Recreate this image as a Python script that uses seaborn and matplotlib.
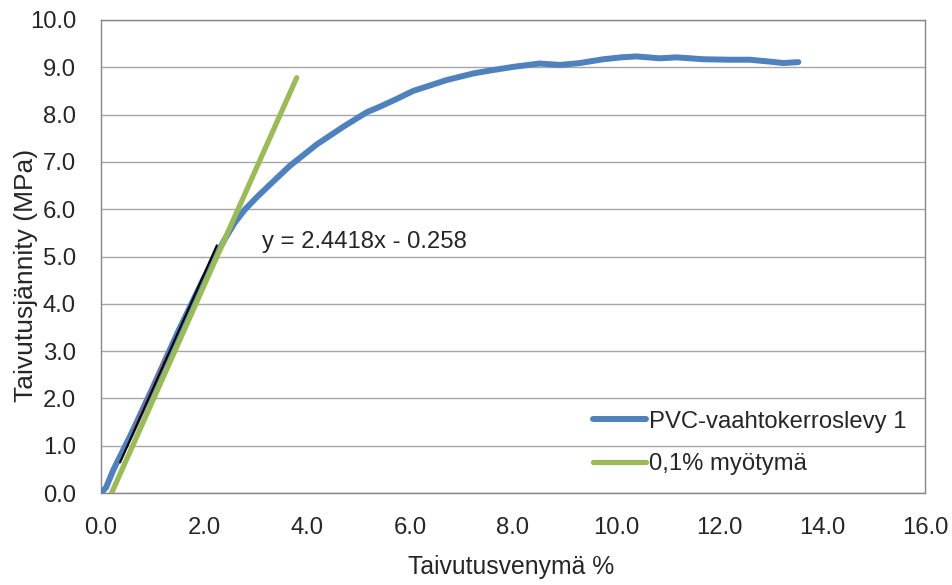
import matplotlib
matplotlib.use("Agg")
import matplotlib.pyplot as plt
from matplotlib.lines import Line2D
import seaborn as sns
import pandas as pd

# ---- data ----
strain = [0.0, 0.1, 0.24, 0.6, 1.0, 1.5, 2.0, 2.25, 2.4, 2.6, 2.8, 3.05, 3.3, 3.67,
          4.19, 4.70, 5.16, 5.42, 5.74, 6.06, 6.4, 6.71, 7.23, 7.6, 8.01, 8.52,
          8.91, 9.30, 9.75, 10.1, 10.40, 10.85, 11.18, 11.70, 12.21, 12.60,
          12.99, 13.25, 13.54]
stress = [0.0, 0.12, 0.49, 1.28, 2.22, 3.42, 4.55, 5.05, 5.36, 5.72, 6.0, 6.28, 6.54, 6.92,
          7.37, 7.74, 8.05, 8.17, 8.33, 8.50, 8.62, 8.73, 8.87, 8.94, 9.01, 9.08,
          9.05, 9.09, 9.17, 9.21, 9.23, 9.19, 9.21, 9.17, 9.16, 9.16,
          9.12, 9.09, 9.11]
fit_strain = [0.63, 0.9, 1.27]
fit_stress = [1.33, 1.97, 2.88]
trend_x = [0.37, 2.25]
trend_slope = 2.4418
trend_intercept = -0.258
offset_strain = [0.206, 3.80]
offset_stress = [0.0, 8.78]
x_ticks = [0, 2, 4, 6, 8, 10, 12, 14, 16]
y_ticks = [0, 1, 2, 3, 4, 5, 6, 7, 8, 9, 10]
series_labels = ["PVC-vaahtokerroslevy 1", "0,1% myötymä"]
equation = "y = 2.4418x - 0.258"

BLUE = "#4F81BD"
GREEN = "#9BBB59"
RED = "#C0504D"

sns.set_style("white")
plt.rcParams['font.family'] = ['Liberation Sans', 'DejaVu Sans']
FS_TICK = 17.2
FS_TEXT = 17.2

fig = plt.figure(figsize=(9.53, 5.85), dpi=100)
ax = fig.add_axes([101/953, 1-493/585, 824/953, 473/585])

main_df = pd.DataFrame({"x": strain, "y": stress})
fit_df = pd.DataFrame({"x": fit_strain, "y": fit_stress})
off_df = pd.DataFrame({"x": offset_strain, "y": offset_stress})
trend_df = pd.DataFrame({"x": trend_x,
                         "y": [trend_slope * v + trend_intercept for v in trend_x]})

sns.lineplot(data=main_df, x="x", y="y", sort=False, color=BLUE, lw=4.3,
             ax=ax, zorder=3, solid_capstyle="round", solid_joinstyle="round")
sns.lineplot(data=fit_df, x="x", y="y", sort=False, color=RED, lw=1.5,
             ax=ax, zorder=4)
sns.lineplot(data=off_df, x="x", y="y", sort=False, color=GREEN, lw=3.8,
             ax=ax, zorder=5, solid_capstyle="round")
sns.lineplot(data=trend_df, x="x", y="y", sort=False, color="black", lw=1.5,
             ax=ax, zorder=6)

ax.set_xlim(0, 16)
ax.set_ylim(0, 10)
ax.set_xticks(x_ticks)
ax.set_xticklabels([f"{v:.1f}" for v in x_ticks], fontsize=FS_TICK)
ax.set_yticks(y_ticks)
ax.set_yticklabels([f"{v:.1f}" for v in y_ticks], fontsize=FS_TICK)
ax.tick_params(axis="both", length=0)
ax.tick_params(axis="x", pad=17)
ax.tick_params(axis="y", pad=18)

ax.set_axisbelow(True)
ax.yaxis.grid(True, color="#a6a6a6", lw=1)
ax.xaxis.grid(False)
for s in ax.spines.values():
    s.set_color("#868686")
    s.set_linewidth(1)

ax.set_xlabel("Taivutusvenymä %", fontsize=17.8)
ax.set_ylabel("Taivutusjännity (MPa)", fontsize=19)
ax.xaxis.set_label_coords((511-101)/824, -(555-493)/473)
ax.yaxis.set_label_coords(-(101-38)/824, (493-275)/473)

ax.text(3.13, 5.31, equation, fontsize=FS_TEXT, ha="left", va="center", zorder=7)

handles = [Line2D([], [], color=BLUE, lw=4.3, solid_capstyle="round"),
           Line2D([], [], color=GREEN, lw=3.8, solid_capstyle="round")]
ax.legend(handles, series_labels, loc="center left",
          bbox_to_anchor=((593-101)/824, (493-443)/473), frameon=False,
          fontsize=FS_TEXT, handlelength=2.2, handletextpad=0.15, labelspacing=0.85,
          borderpad=0, borderaxespad=0)

fig.savefig("out.png", dpi=100)
